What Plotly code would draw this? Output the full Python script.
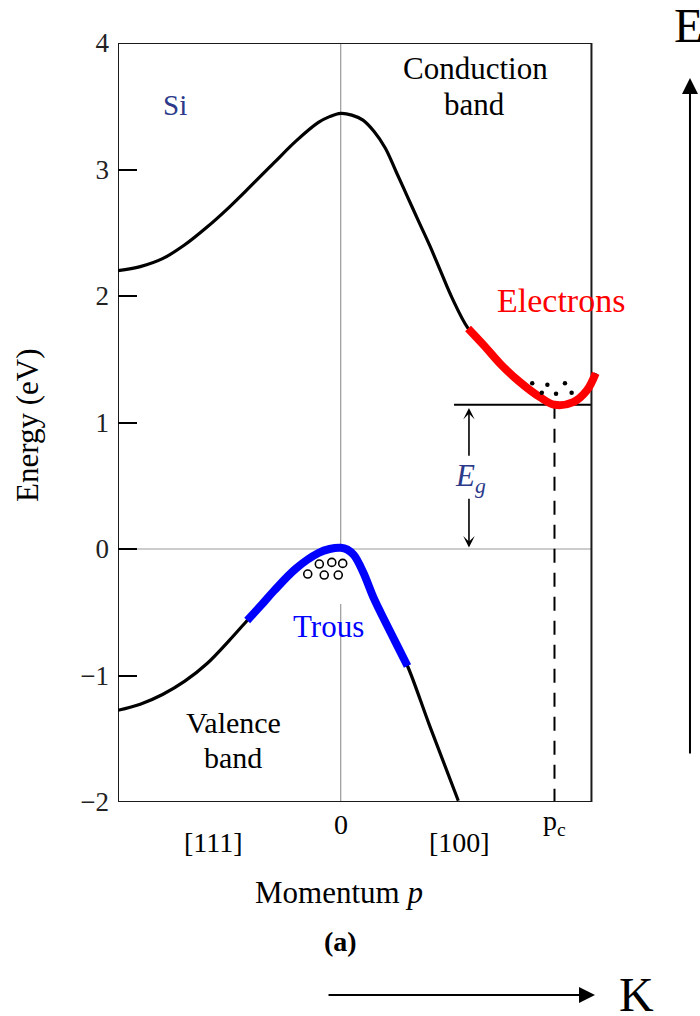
import plotly.graph_objects as go

SERIF = "Liberation Serif, Times New Roman, serif"

# ---- data -------------------------------------------------------------
energy_ticks = [-2, -1, 0, 1, 2, 3, 4]

# momentum axis: [111] side negative, [100] side positive (arbitrary units)
p_left, p_right = -1.0, 1.126
E_bottom, E_top = -2.0, 4.0

# conduction band
cond_p = [-1.0, -0.9, -0.8, -0.7, -0.6, -0.5, -0.4, -0.3, -0.2, -0.1, -0.05,
          0.0, 0.05, 0.1, 0.15, 0.2, 0.25, 0.3, 0.35, 0.4, 0.45, 0.5, 0.572,
          0.643, 0.716, 0.805, 0.895, 0.96, 1.044, 1.105, 1.145]
cond_E = [2.20, 2.232, 2.295, 2.405, 2.545, 2.703, 2.876, 3.052, 3.226, 3.372, 3.418,
          3.444, 3.43, 3.39, 3.30, 3.17, 2.978, 2.784, 2.59, 2.398, 2.19, 1.985, 1.744,
          1.61, 1.465, 1.319, 1.200, 1.14, 1.161, 1.253, 1.39]

# electron-filled part of the conduction band (around the minimum)
elec_p = [0.572, 0.643, 0.716, 0.805, 0.895, 0.96, 1.044, 1.105, 1.145]
elec_E = [1.744, 1.61, 1.465, 1.319, 1.200, 1.14, 1.161, 1.253, 1.39]

# valence band
val_p = [-1.0, -0.9, -0.8, -0.7, -0.6, -0.5, -0.42, -0.36, -0.3, -0.2, -0.1, -0.05,
         0.0, 0.03, 0.06, 0.1, 0.15, 0.2, 0.25, 0.3, 0.4, 0.528]
val_E = [-1.275, -1.227, -1.150, -1.045, -0.905, -0.722, -0.565, -0.45, -0.331, -0.153,
         -0.032, 0.0, 0.01, -0.005, -0.05, -0.18, -0.395, -0.575, -0.75, -0.925, -1.40, -1.99]

# hole-filled part of the valence band (around the maximum)
hole_band_p = [-0.42, -0.36, -0.3, -0.2, -0.1, -0.05, 0.0, 0.03, 0.06, 0.1, 0.15,
               0.2, 0.25, 0.3]
hole_band_E = [-0.565, -0.45, -0.331, -0.153, -0.032, 0.0, 0.01, -0.005, -0.05, -0.18,
               -0.395, -0.575, -0.75, -0.925]

# carriers
electron_p = [0.860, 0.928, 1.007, 0.903, 0.967, 1.037]
electron_E = [1.311, 1.298, 1.311, 1.235, 1.227, 1.235]
hole_p = [-0.148, -0.096, -0.040, 0.009, -0.074, -0.011]
hole_E = [-0.198, -0.119, -0.106, -0.114, -0.206, -0.206]

E_gap = 1.14
p_c = 0.96

x_tick_pos = [-0.57, 0.0, 0.533, p_c]
x_tick_text = ["[111]", "0", "[100]", "p<sub>c</sub>"]
x_tick_y = [-0.0534, -0.0296, -0.0534, -0.027]

# ---- figure -----------------------------------------------------------
fig = go.Figure()

def band(x, y, color, width):
    return go.Scatter(x=x, y=y, mode="lines", hoverinfo="skip",
                      line=dict(color=color, width=width, shape="spline", smoothing=1.0))

fig.add_trace(band(cond_p, cond_E, "black", 3.2))
fig.add_trace(band(val_p, val_E, "black", 3.2))
fig.add_trace(band(elec_p, elec_E, "#ff0000", 8))
fig.add_trace(band(hole_band_p, hole_band_E, "#0000ff", 8))
fig.add_trace(go.Scatter(x=electron_p, y=electron_E, mode="markers",
                         marker=dict(color="black", size=4.5),
                         hoverinfo="skip"))
fig.add_trace(go.Scatter(x=hole_p, y=hole_E, mode="markers",
                         marker=dict(symbol="circle-open", color="black", size=8,
                                     line=dict(width=1.6, color="black")),
                         hoverinfo="skip"))

shapes = [
    # reference lines E = 0 and p = 0
    dict(type="line", xref="x", yref="y", x0=p_left, x1=p_right, y0=0, y1=0,
         line=dict(color="#9a9a9a", width=1.2), layer="below"),
    dict(type="line", xref="x", yref="y", x0=0, x1=0, y0=E_top, y1=0.0,
         line=dict(color="#9a9a9a", width=1.2), layer="below"),
    dict(type="line", xref="x", yref="y", x0=0, x1=0, y0=-0.435, y1=E_bottom,
         line=dict(color="#9a9a9a", width=1.2), layer="below"),
    # conduction-band minimum level and its momentum
    dict(type="line", xref="x", yref="y", x0=0.509, x1=p_right, y0=E_gap, y1=E_gap,
         line=dict(color="black", width=2), layer="below"),
    dict(type="line", xref="x", yref="y", x0=p_c, x1=p_c, y0=E_gap, y1=E_bottom,
         line=dict(color="black", width=2, dash="14px,10px"), layer="below"),
    # frame
    dict(type="rect", xref="x", yref="y", x0=p_left, x1=p_right, y0=E_bottom, y1=E_top,
         line=dict(color="#1a1a1a", width=2), layer="below"),
]

def txt(text, x, y, size, color="black", xref="x", yref="y", **kw):
    return dict(text=text, x=x, y=y, xref=xref, yref=yref, showarrow=False,
                font=dict(family=SERIF, size=size, color=color),
                xanchor=kw.pop("xanchor", "center"), yanchor=kw.pop("yanchor", "middle"), **kw)

NAVY = "#2b3a8a"
annotations = [
    txt("Si", -0.744, 3.51, 29, NAVY),
    txt("Conduction", 0.605, 3.798, 31),
    txt("band", 0.603, 3.514, 31),
    txt("Electrons", 0.989, 1.968, 34, "#ff0000"),
    txt("Trous", -0.056, -0.614, 31, "#0000ff"),
    txt("Valence", -0.480, -1.375, 30),
    txt("band", -0.482, -1.652, 30),
    txt("<i>E<sub>g</sub></i>", 0.5806, 0.56, 31, NAVY),
    txt("Energy (eV)", -0.1869, 0.4967, 31, xref="paper", yref="paper", textangle=-90),
    txt("Momentum <i>p</i>", 0.4548, -0.1192, 31, xref="paper", yref="paper"),
    txt("<b>(a)</b>", 0.4569, -0.1838, 28, xref="paper", yref="paper"),
    txt("E", 1.1376, 1.0224, 48, xref="paper", yref="paper", xanchor="left"),
    txt("K", 1.0657, -0.253, 48, xref="paper", yref="paper"),
]
for xv, lab, yv in zip(x_tick_pos, x_tick_text, x_tick_y):
    annotations.append(txt(lab, xv, yv, 28, yref="paper"))

# E_g double arrow (two halves around the label)
for tail, tip in [(0.725, 1.115), (0.41, 0.012)]:
    annotations.append(dict(x=0.576, y=tip, ax=0.576, ay=tail, xref="x", yref="y",
                            axref="x", ayref="y", text="", showarrow=True,
                            arrowhead=3, arrowsize=1.2, arrowwidth=1.6, arrowcolor="black"))

# energy and wave-vector direction arrows
annotations.append(dict(x=1.1745, y=0.9539, xref="paper", yref="paper", ax=0, ay=677,
                        text="", showarrow=True, arrowhead=2, arrowsize=1.6,
                        arrowwidth=2, arrowcolor="black"))
annotations.append(dict(x=0.9795, y=-0.2543, xref="paper", yref="paper", ax=-268, ay=0,
                        text="", showarrow=True, arrowhead=2, arrowsize=1.6,
                        arrowwidth=2, arrowcolor="black"))

fig.update_layout(
    width=700, height=1016,
    margin=dict(l=118, r=95, t=43, b=214),
    paper_bgcolor="white", plot_bgcolor="white",
    showlegend=False,
    shapes=shapes, annotations=annotations,
    xaxis=dict(range=[p_left, 1.1868], showgrid=False, zeroline=False,
               showticklabels=False, ticks="", showline=False, fixedrange=True),
    yaxis=dict(range=[E_bottom, E_top], showgrid=False, zeroline=False,
               showline=False, ticks="inside", ticklen=19, tickwidth=2, tickcolor="black",
               tickvals=energy_ticks, ticklabelstandoff=8,
               tickfont=dict(family=SERIF, size=27, color="#222"), fixedrange=True),
)

fig.write_html("out.html")
